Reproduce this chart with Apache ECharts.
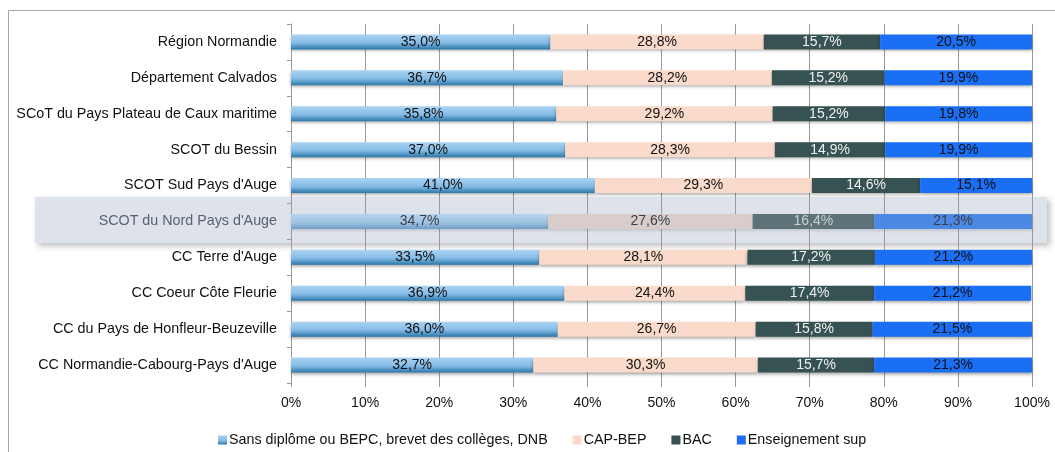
<!DOCTYPE html>
<html><head><meta charset="utf-8">
<script src="https://cdn.jsdelivr.net/npm/echarts@6/dist/echarts.min.js"></script>
<style>html,body{margin:0;padding:0;background:#fff}#c{width:1055px;height:452px}</style>
</head><body><div id="c"></div>
<script>
const categories = ["Région Normandie","Département Calvados","SCoT du Pays Plateau de Caux maritime","SCOT du Bessin","SCOT Sud Pays d'Auge","SCOT du Nord Pays d'Auge","CC Terre d'Auge","CC Coeur Côte Fleurie","CC du Pays de Honfleur-Beuzeville","CC Normandie-Cabourg-Pays d'Auge"];
const seriesNames = ["Sans diplôme ou BEPC, brevet des collèges, DNB","CAP-BEP","BAC","Enseignement sup"];
const sansDiplome = [35.0,36.7,35.8,37.0,41.0,34.7,33.5,36.9,36.0,32.7];
const capBep = [28.8,28.2,29.2,28.3,29.3,27.6,28.1,24.4,26.7,30.3];
const bac = [15.7,15.2,15.2,14.9,14.6,16.4,17.2,17.4,15.8,15.7];
const ensSup = [20.5,19.9,19.8,19.9,15.1,21.3,21.2,21.2,21.5,21.3];
const xTicks = [0,10,20,30,40,50,60,70,80,90,100];
const highlightIndex = 5;

const FONT = "Liberation Sans";
const grad = (a,b,c) => new echarts.graphic.LinearGradient(0,0,0,1,[{offset:0,color:a},{offset:0.55,color:b},{offset:1,color:c}]);
const styles = [
  {color: grad('#aad3f2','#86bce6','#2a78ab'), hl: grad('#b6d4ee','#a0c4e4','#6f9fc6'), label:'#111', hlLabel:'#3a3f47'},
  {color: '#fadbcb', hl: '#d9cdcc', label:'#111', hlLabel:'#3a3f47'},
  {color: '#375252', hl: '#5e7378', label:'#f0f0f0', hlLabel:'#c8d0d4'},
  {color: '#1a6ff5', hl: '#4b89e4', label:'#111', hlLabel:'#3a3f47'}
];
const values = [sansDiplome, capBep, bac, ensSup];

const series = values.map((arr, s) => ({
  name: seriesNames[s], type: 'bar', stack: 'total', barWidth: 15,
  itemStyle: {color: styles[s].color, shadowColor:'rgba(0,0,0,0.35)', shadowBlur:3, shadowOffsetY:2},
  label: {show:true, position:'inside', fontFamily:FONT, fontSize:14, color: styles[s].label,
          formatter: p => p.value.toFixed(1).replace('.', ',') + '%'},
  data: arr.map((v,i) => i === highlightIndex ? {value:v, itemStyle:{color:styles[s].hl, shadowColor:'rgba(0,0,0,0.15)'}, label:{color:styles[s].hlLabel}} : v)
}));

const chart = echarts.init(document.getElementById('c'));
chart.setOption({
  animation:false,
  textStyle:{fontFamily:FONT},
  graphic:[
    {type:'rect', z:-20, silent:true, shape:{x:8.5,y:10.5,width:1100,height:500}, style:{fill:'#fff', stroke:'#a6a6a6', lineWidth:1}},
    {type:'rect', z:-10, silent:true, shape:{x:35,y:197,width:1012,height:46}, style:{fill:'#dee2eb', shadowColor:'rgba(0,0,0,0.25)', shadowBlur:6, shadowOffsetX:3, shadowOffsetY:3}}
  ],
  grid:{left:291, right:23, top:24, bottom:69, containLabel:false},
  legend:{top:428, left:213, itemWidth:9, itemHeight:9, itemGap:25, icon:'rect',
    textStyle:{fontFamily:FONT, fontSize:14.3, color:'#111', padding:[0,0,0,-3]}, data:seriesNames},
  xAxis:{type:'value', min:0, max:100, interval:10,
    axisLine:{show:false}, axisTick:{show:true, length:4, lineStyle:{color:'#9a9a9a'}},
    splitLine:{show:true, lineStyle:{color:'#9a9a9a', width:1}},
    axisLabel:{fontFamily:FONT, fontSize:14, color:'#111', margin:13, formatter: v => xTicks.includes(v) ? v + '%' : ''}},
  yAxis:{type:'category', data:categories, inverse:true,
    axisLine:{show:true, lineStyle:{color:'#9a9a9a'}},
    axisTick:{show:true, length:4, lineStyle:{color:'#9a9a9a'}},
    axisLabel:{fontFamily:FONT, fontSize:14.3, margin:14, color:(v,i) => i === highlightIndex ? '#5a6270' : '#111'}},
  series
});
</script></body></html>
